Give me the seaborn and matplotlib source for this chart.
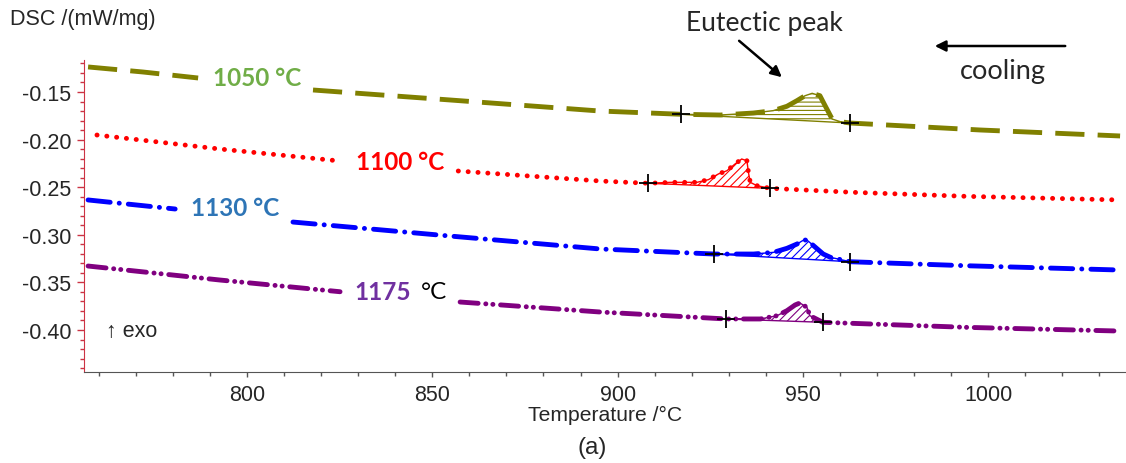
import numpy as np
import pandas as pd
import matplotlib
matplotlib.use("Agg")
import matplotlib.pyplot as plt
from matplotlib.ticker import MultipleLocator, FormatStrFormatter
import seaborn as sns

# ---------------- data ----------------
# 1050 °C (olive, dashed)
t1050_a = [757.1, 771.9, 786.8]
v1050_a = [-0.1237, -0.1290, -0.1353]
t1050_b = [817.8, 854.8, 895.3, 917.1, 927.7, 936.6, 942.0, 945.7, 948.4, 950.6,
           952.5, 954.6, 956.0, 957.9, 960.1, 962.8, 997.8, 1035.6]
v1050_b = [-0.1479, -0.1584, -0.1700, -0.1734, -0.1742, -0.1721, -0.1696, -0.1650,
           -0.1591, -0.1539, -0.1514, -0.1539, -0.1644, -0.1784, -0.1812, -0.1826,
           -0.1899, -0.1962]
lim1050 = [917.1, 962.8]

# 1100 °C (red, dotted)
t1100_a = [759.5, 792.7, 825.1]
v1100_a = [-0.1952, -0.2099, -0.2225]
t1100_b = [857.0, 895.3, 908.3, 914.2, 921.4, 924.5, 927.2, 929.5, 931.7, 933.5,
           934.9, 935.3, 935.8, 937.6, 941.2, 963.6, 994.2, 1035.6]
v1100_b = [-0.2330, -0.2435, -0.2459, -0.2449, -0.2449, -0.2421, -0.2361, -0.2327,
           -0.2256, -0.2204, -0.2222, -0.2343, -0.2449, -0.2484, -0.2512, -0.2554,
           -0.2596, -0.2634]
lim1100 = [908.3, 941.2]

# 1130 °C (blue, dash-dot)
t1130_a = [757.1, 780.6]
v1130_a = [-0.2634, -0.2729]
t1130_b = [812.4, 854.8, 895.3, 926.1, 936.7, 942.1, 945.7, 948.4, 950.2, 951.1,
           952.9, 955.5, 957.4, 962.8, 994.2, 1035.6]
v1130_b = [-0.2866, -0.3013, -0.3149, -0.3202, -0.3202, -0.3184, -0.3142, -0.3097,
           -0.3055, -0.3055, -0.3115, -0.3202, -0.3236, -0.3283, -0.3325, -0.3370]
lim1130 = [926.1, 962.8]

# 1175 °C (purple, dash-dot-dot)
t1175_a = [757.1, 792.7, 825.1]
v1175_a = [-0.3328, -0.3475, -0.3598]
t1175_b = [857.5, 895.3, 929.3, 938.5, 943.0, 945.7, 947.9, 949.2, 951.1, 951.9,
           955.4, 994.2, 1035.6]
v1175_b = [-0.3706, -0.3811, -0.3884, -0.3884, -0.3850, -0.3797, -0.3737, -0.3716,
           -0.3762, -0.3850, -0.3919, -0.3972, -0.4011]
lim1175 = [929.3, 955.4]

x_major = [800, 850, 900, 950, 1000]
y_major = [-0.40, -0.35, -0.30, -0.25, -0.20, -0.15]

# ---------------- style ----------------
sns.set_style("ticks")
plt.rcParams["font.family"] = ["Liberation Sans", "DejaVu Sans"]
plt.rcParams["axes.unicode_minus"] = False
plt.rcParams["lines.scale_dashes"] = False
plt.rcParams["hatch.linewidth"] = 0.8

W, H = 1126, 464
fig = plt.figure(figsize=(W / 100, H / 100), dpi=100)
ax = fig.add_axes([84 / W, 1 - 373 / H, 1 - 84 / W, (373 - 61) / H])

series = [
    dict(ta=t1050_a, va=v1050_a, tb=t1050_b, vb=v1050_b, lim=lim1050,
         color="#808000", ls=(0, (21, 9.5)), cap="butt", hatch="----"),
    dict(ta=t1100_a, va=v1100_a, tb=t1100_b, vb=v1100_b, lim=lim1100,
         color="#FF0000", ls=(0, (0.1, 7)), cap="round", hatch="////"),
    dict(ta=t1130_a, va=v1130_a, tb=t1130_b, vb=v1130_b, lim=lim1130,
         color="#0000FF", ls=(0, (16, 6.5, 0.1, 6.5)), cap="round", hatch="////"),
    dict(ta=t1175_a, va=v1175_a, tb=t1175_b, vb=v1175_b, lim=lim1175,
         color="#800080", ls=(0, (13, 5.5, 0.1, 5, 0.1, 5.5)), cap="round", hatch="////"),
]

for s in series:
    for t, v in ((s["ta"], s["va"]), (s["tb"], s["vb"])):
        df = pd.DataFrame({"T": t, "v": v})
        sns.lineplot(data=df, x="T", y="v", color=s["color"], lw=3.5,
                     linestyle=s["ls"], sort=False, estimator=None, ax=ax)
        ax.lines[-1].set_dash_capstyle(s["cap"])
        ax.lines[-1].set_solid_capstyle(s["cap"])
    tb = np.array(s["tb"]); vb = np.array(s["vb"])
    m = (tb >= s["lim"][0]) & (tb <= s["lim"][1])
    ax.fill(tb[m], vb[m], facecolor="none", edgecolor=s["color"],
            hatch=s["hatch"], lw=1.0)
    cm = np.isin(tb, s["lim"])
    sns.scatterplot(x=tb[cm], y=vb[cm], marker="+", color="black", s=150,
                    linewidth=1.3, ax=ax, zorder=5)

ax.set_xlim(756.0, 1037.2)
ax.set_ylim(-0.4441, -0.1164)
ax.set_xticks(x_major)
ax.set_yticks(y_major)
ax.xaxis.set_minor_locator(MultipleLocator(10))
ax.yaxis.set_minor_locator(MultipleLocator(0.01))
ax.yaxis.set_major_formatter(FormatStrFormatter("%.2f"))
ax.tick_params(axis="both", which="major", labelsize=15.5, direction="out")
ax.tick_params(axis="y", which="major", length=5, width=1, color="#CC3344", pad=4)
ax.tick_params(axis="y", which="minor", length=3, width=1, color="#CC3344")
ax.tick_params(axis="x", which="major", length=3.5, width=1, color="#555555", pad=5)
ax.tick_params(axis="x", which="minor", length=3, width=1, color="#555555")
for sp in ("top", "right"):
    ax.spines[sp].set_visible(False)
ax.spines["left"].set_color("#CC3344")
ax.spines["bottom"].set_color("#555555")
ax.set_xlabel("Temperature /°C", fontsize=15.2, labelpad=0)
ax.set_ylabel("")

lab = dict(family=["Lato", "DejaVu Sans"], fontsize=17.5, fontweight="bold",
           va="center")
ax.text(802.7, -0.1353, "1050 °C", color="#70AD47", ha="center", **lab)
ax.text(841.3, -0.2225, "1100 °C", color="#FF0000", ha="center", **lab)
ax.text(796.8, -0.2708, "1130 °C", color="#2E75B6", ha="center", **lab)
ax.text(829.1, -0.3600, "1175", color="#7030A0", ha="left", **lab)
ax.text(847.0, -0.3600, "°C", color="black", ha="left", va="center",
        family=["Lato", "DejaVu Sans"], fontsize=17.5)
ax.text(761.9, -0.4005, "↑ exo", fontsize=15.5, ha="left", va="center")

fig.text(10 / W, 1 - 20 / H, "DSC /(mW/mg)", fontsize=15.5, ha="left", va="center")
fig.text(592 / W, 1 - 448 / H, "(a)", fontsize=17.5, ha="center", va="center")
fig.text(764 / W, 1 - 24 / H, "Eutectic peak", family=["Lato", "DejaVu Sans"],
         fontsize=19, ha="center", va="center")
fig.text(1003 / W, 1 - 72 / H, "cooling", family=["Lato", "DejaVu Sans"],
         fontsize=19.5, ha="center", va="center")
ax.annotate("", xy=(784, H - 80), xycoords="figure pixels",
            xytext=(737, H - 40), textcoords="figure pixels",
            arrowprops=dict(arrowstyle="-|>", color="black", lw=1.8,
                            mutation_scale=16))
ax.annotate("", xy=(932, H - 47), xycoords="figure pixels",
            xytext=(1068, H - 47), textcoords="figure pixels",
            arrowprops=dict(arrowstyle="-|>", color="black", lw=1.8,
                            mutation_scale=16))

fig.savefig("out.png", dpi=100)
